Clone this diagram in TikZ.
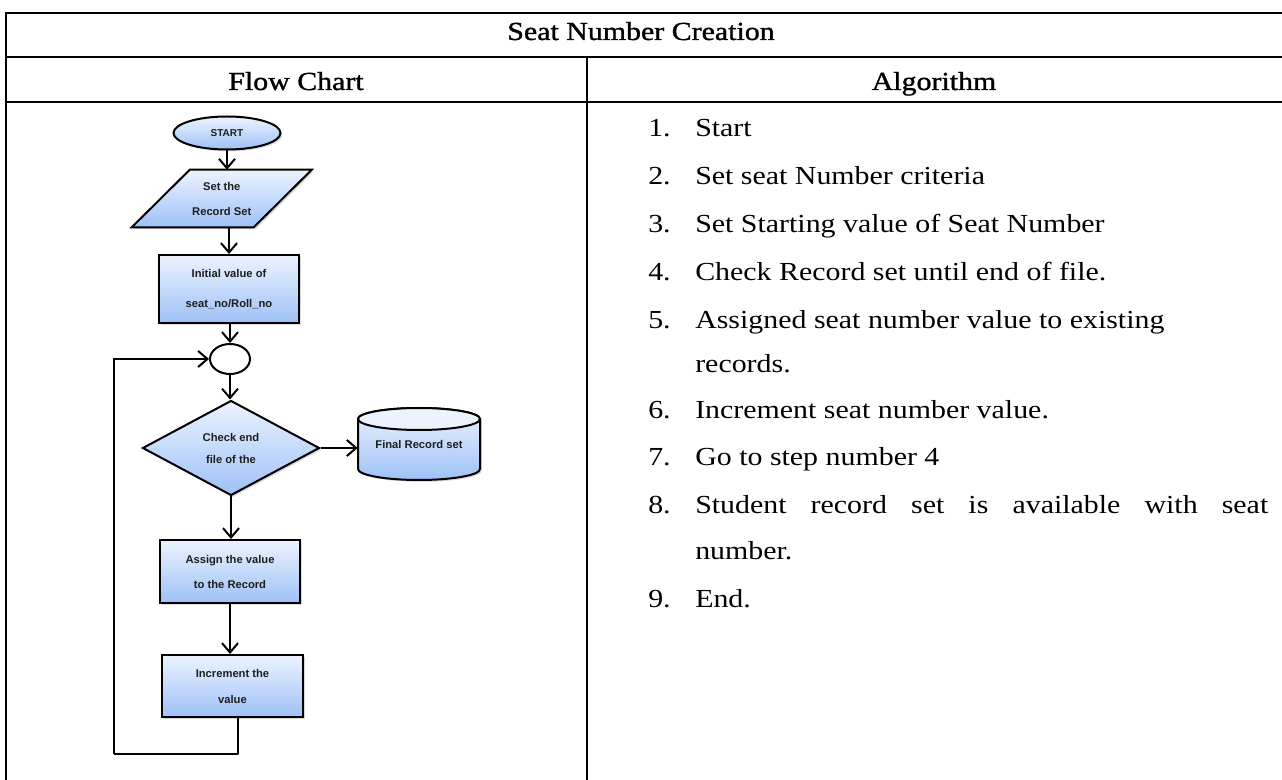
\documentclass[tikz,border=0pt]{standalone}
\usepackage{fontspec}
\setmainfont{Liberation Serif}[FakeStretch=1.15]
\newfontfamily\chartfont{Liberation Sans}
\newfontfamily\headfont{Liberation Serif}[FakeStretch=1.15,FakeBold=1.2]
\usetikzlibrary{arrows.meta,shapes.geometric,shadows,calc,backgrounds}

\definecolor{flowtop}{RGB}{236,243,254}
\definecolor{flowbot}{RGB}{158,193,247}
\definecolor{chartink}{RGB}{30,30,30}

\newcommand\headsize{\fontsize{19.5pt}{23pt}\selectfont}
\newcommand\listsize{\fontsize{19.5pt}{23pt}\selectfont}

\tikzset{
  tableline/.style={line width=1.5pt, line cap=rect},
  headtext/.style={anchor=base, inner sep=0, font=\headfont\headsize},
  listnum/.style={anchor=base west, inner sep=0, font=\listsize},
  listtext/.style={anchor=base west, inner sep=0, font=\listsize},
  shapeline/.style={draw=black, line width=1.5pt},
  shaded/.style={shapeline, top color=flowtop, bottom color=flowbot},
  shadowed/.style={drop shadow={shadow xshift=1.4pt, shadow yshift=-1.4pt, opacity=0.3}},
  chartbox/.style={shaded, shadowed, inner sep=0, align=center, text=chartink},
  chartlabel/.style={inner sep=0, align=center, text=chartink},
  flow/.style={line width=1.5pt, -{Straight Barb[length=7pt,width=12pt,line width=1.5pt]}},
  plainflow/.style={line width=1.5pt, line join=round},
}

\begin{document}
\begin{tikzpicture}[x=0.75pt, y=-0.75pt]
\useasboundingbox (0,0) rectangle (1282,780);

% ---- table frame ----
\draw[tableline] (6,12.7) -- (1290,12.7);
\draw[tableline] (6,57) -- (1290,57);
\draw[tableline] (6,102) -- (1290,102);
\draw[tableline] (6,12.7) -- (6,790);
\draw[tableline] (586.5,57) -- (586.5,790);

% ---- headings ----
\node[headtext] (title) at (641,40) {Seat Number Creation};
\node[headtext] (fchead) at (296,90) {Flow Chart};
\node[headtext] (alghead) at (934,90) {Algorithm};

% ---- flow chart ----
\node[chartbox, ellipse, minimum width=80.25pt, minimum height=24.75pt,
      font=\chartfont\bfseries\fontsize{7.5pt}{8pt}\selectfont] (start) at (227,133) {START};

\node[chartlabel, minimum width=91.1pt, minimum height=42.75pt,
      font=\chartfont\bfseries\fontsize{8.4pt}{18.75pt}\selectfont] (setrec) at (221.75,198.5) {Set the\\Record Set};
\begin{pgfonlayer}{background}
  \path[shaded, shadowed] ($(setrec.north west)+(29,0)$) -- ($(setrec.north east)+(29,0)$)
        -- ($(setrec.south east)+(-29,0)$) -- ($(setrec.south west)+(-29,0)$) -- cycle;
\end{pgfonlayer}

\node[chartbox, rectangle, minimum width=105pt, minimum height=51pt,
      font=\chartfont\bfseries\fontsize{8.4pt}{22.5pt}\selectfont] (init) at (229,289) {Initial value of\\seat\_no/Roll\_no};

\node[shapeline, ellipse, fill=white, inner sep=0, minimum width=30pt, minimum height=22.5pt] (join) at (230,359) {};

\node[chartbox, diamond, aspect=1.86, minimum width=132.75pt, minimum height=71.25pt,
      font=\chartfont\bfseries\fontsize{8.4pt}{16.5pt}\selectfont] (check) at (231,448) {Check end\\file of the};

\node[chartlabel, minimum width=91.5pt, minimum height=54pt,
      font=\chartfont\bfseries\fontsize{8.4pt}{10pt}\selectfont] (final) at (419,444) {Final Record set};
\begin{pgfonlayer}{background}
  \path[shaded, shadowed] (358,419) -- (358,469)
        arc[start angle=180, end angle=0, x radius=61, y radius=11]
        -- (480,419)
        arc[start angle=0, end angle=-180, x radius=61, y radius=11] -- cycle;
  \path[shapeline, fill=flowtop] (419,419) ellipse [x radius=61, y radius=11];
\end{pgfonlayer}

\node[chartbox, rectangle, minimum width=105pt, minimum height=47.25pt,
      font=\chartfont\bfseries\fontsize{8.4pt}{18.75pt}\selectfont] (assign) at (230,571.5) {Assign the value\\to the Record};

\node[chartbox, rectangle, minimum width=105.75pt, minimum height=46.5pt,
      font=\chartfont\bfseries\fontsize{8.4pt}{19.5pt}\selectfont] (incr) at (232.5,686) {Increment the\\value};

\coordinate (loopcorner) at (114,754);

% ---- connectors ----
\draw[flow] (start.south) -- (start.south |- setrec.north);
\draw[flow] (init.north |- setrec.south) -- (init.north);
\draw[flow] (init.south) -- (init.south -| join.north) -- (join.north);
\draw[flow] (join.south) -- (join.south |- check.north);
\draw[flow] (check.east) -- (check.east -| final.west);
\draw[flow] (check.south) -- (check.south |- assign.north);
\draw[flow] (assign.south) -- (assign.south |- incr.north);
\draw[plainflow] ($(incr.south)+(5,0)$) |- (loopcorner);
\draw[flow] (loopcorner) |- (join.west);

% ---- algorithm steps ----
\node[listnum] (n1) at (648,137) {1.};
\node[listtext] (t1) at (695,137) {Start};
\node[listnum] (n2) at (648,185) {2.};
\node[listtext] (t2) at (695,185) {Set seat Number criteria};
\node[listnum] (n3) at (648,233) {3.};
\node[listtext] (t3) at (695,233) {Set Starting value of Seat Number};
\node[listnum] (n4) at (648,281) {4.};
\node[listtext] (t4) at (695,281) {Check Record set until end of file.};
\node[listnum] (n5) at (648,329) {5.};
\node[listtext] (t5) at (695,329) {Assigned seat number value to existing};
\node[listtext] (t5b) at (695,373) {records.};
\node[listnum] (n6) at (648,419) {6.};
\node[listtext] (t6) at (695,419) {Increment seat number value.};
\node[listnum] (n7) at (648,466) {7.};
\node[listtext] (t7) at (695,466) {Go to step number 4};
\node[listnum] (n8) at (648,513) {8.};
\node[listtext] (t8) at (695,513) {\makebox[429.75pt][s]{Student record set is available with seat}};
\node[listtext] (t8b) at (695,559) {number.};
\node[listnum] (n9) at (648,607) {9.};
\node[listtext] (t9) at (695,607) {End.};
\end{tikzpicture}
\end{document}
